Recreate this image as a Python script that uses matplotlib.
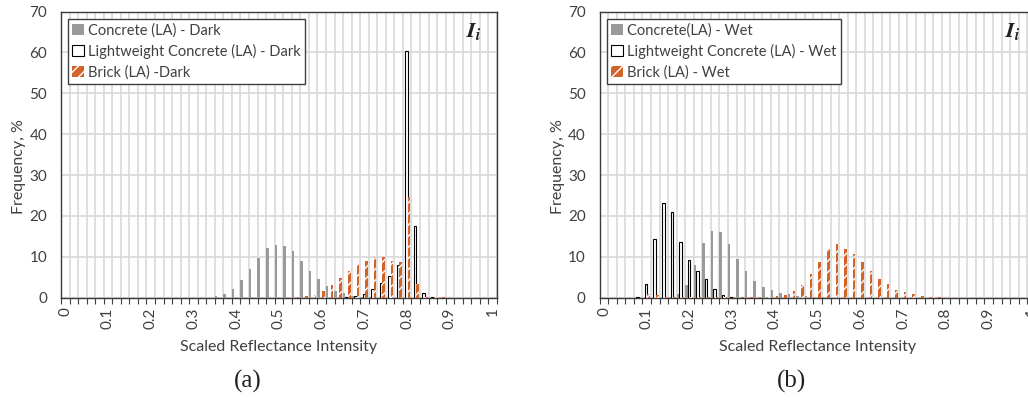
# %%
import numpy as np
import matplotlib.pyplot as plt

plt.rcParams["font.family"] = ["Lato", "DejaVu Sans"]
plt.rcParams["mathtext.fontset"] = "stix"

# %% data: frequency (%) per scaled intensity bin (bin step 0.02)

bins = [round(0.02 * i, 2) for i in range(51)]
tick_labels = ["0", "0.1", "0.2", "0.3", "0.4", "0.5", "0.6", "0.7", "0.8", "0.9", "1"]

concrete_dark = [
    0, 0, 0, 0, 0, 0, 0, 0, 0, 0,
    0, 0, 0, 0, 0, 0, 0, 0, 0.3, 0.9,
    2.0, 4.2, 7.1, 9.8, 12.1, 12.9, 12.6, 11.3, 9.0, 6.4,
    4.5, 2.9, 1.7, 1.1, 0.5, 0.2, 0.1, 0, 0, 0,
    0, 0, 0, 0, 0, 0, 0, 0, 0, 0,
    0,
]
lightweight_dark = [
    0, 0, 0, 0, 0, 0, 0, 0, 0, 0,
    0, 0, 0, 0, 0, 0, 0, 0, 0, 0,
    0, 0, 0, 0, 0, 0, 0, 0, 0, 0,
    0, 0, 0, 0.2, 0.5, 0.9, 2.0, 3.5, 5.3, 8.0,
    60.4, 17.6, 1.1, 0.2, 0, 0, 0, 0, 0, 0,
    0,
]
brick_dark = [
    0, 0, 0, 0, 0, 0, 0, 0, 0, 0,
    0, 0, 0, 0, 0, 0, 0, 0, 0, 0,
    0, 0, 0, 0, 0, 0, 0, 0.1, 0.3, 0.7,
    1.5, 3.0, 4.7, 6.4, 8.2, 9.0, 9.9, 9.9, 9.0, 8.6,
    24.7, 3.4, 0.2, 0.1, 0.1, 0, 0, 0, 0, 0,
    0,
]

concrete_wet = [
    0, 0, 0, 0, 0, 0, 0, 0, 0.2, 0.8,
    3.2, 8.0, 13.3, 16.4, 16.1, 13.2, 9.5, 6.5, 4.1, 2.7,
    1.8, 1.2, 0.8, 0.5, 0.3, 0.2, 0.1, 0, 0, 0,
    0, 0, 0, 0, 0, 0, 0, 0, 0, 0,
    0, 0, 0, 0, 0, 0, 0, 0, 0, 0,
    0,
]
lightweight_wet = [
    0, 0, 0, 0, 0.2, 3.3, 14.4, 23.2, 20.9, 13.7,
    9.1, 6.6, 4.5, 2.2, 0.7, 0.2, 0, 0, 0, 0,
    0, 0, 0, 0, 0, 0, 0, 0, 0, 0,
    0, 0, 0, 0, 0, 0, 0, 0, 0, 0,
    0, 0, 0, 0, 0, 0, 0, 0, 0, 0,
    0,
]
brick_wet = [
    0, 0, 0, 0, 0, 0.9, 0.6, 0.2, 0.1, 0.1,
    0.1, 0.1, 0.1, 0.1, 0.1, 0.1, 0.1, 0.1, 0.2, 0.2,
    0.3, 0.7, 1.5, 3.0, 5.8, 8.7, 11.8, 13.1, 11.8, 10.6,
    8.7, 6.5, 4.6, 3.3, 1.9, 1.3, 0.9, 0.4, 0.2, 0.2,
    0.2, 0, 0, 0, 0, 0, 0, 0, 0, 0,
    0,
]

labels_dark = [
    "Concrete (LA) - Dark",
    "Lightweight Concrete (LA) - Dark",
    "Brick (LA) -Dark",
]
labels_wet = [
    "Concrete(LA) - Wet",
    "Lightweight Concrete (LA) - Wet",
    "Brick (LA) - Wet",
]

# %%

gray = "#9A9A9C"
orange = "#D4632A"
text_color = "#404040"
width = 0.3
offsets = np.array([-0.3, 0.0, 0.3]) - 0.07


def draw_panel(ax, series, labels):
    x = np.arange(len(bins))

    ax.bar(x + offsets[0], series[0], width, color=gray, linewidth=0,
           label=labels[0], zorder=3)
    ax.bar(x + offsets[1], series[1], width, facecolor="white",
           edgecolor="black", linewidth=0.8, label=labels[1], zorder=3)
    ax.bar(x + offsets[2], series[2], width, facecolor=orange,
           edgecolor="white", hatch="///", linewidth=0, label=labels[2],
           zorder=3)

    ax.set_xlim(-0.5, len(bins) - 0.5)
    ax.set_ylim(0, 70)
    ax.set_yticks(range(0, 71, 10))

    # labels on every 5th bin, small ticks / grid on bin edges
    ax.set_xticks(x[::5], tick_labels, rotation=90)
    ax.set_xticks(np.arange(len(bins) + 1) - 0.5, minor=True)
    ax.tick_params(axis="x", which="major", length=0, pad=7)
    ax.tick_params(axis="x", which="minor", length=4, width=0.8,
                   color="#404040", direction="out")
    ax.tick_params(axis="y", length=0, pad=10)
    ax.tick_params(labelsize=11, labelcolor=text_color)

    ax.grid(axis="x", which="minor", color="#D9D9D9", linewidth=1.2, zorder=0)
    ax.grid(axis="y", which="major", color="#D9D9D9", linewidth=1.2, zorder=0)
    ax.set_axisbelow(True)

    for s in ax.spines.values():
        s.set_color("#3A3A3A")
        s.set_linewidth(1.0)

    ax.set_xlabel("Scaled Reflectance Intensity", fontsize=11.5, color=text_color)
    ax.xaxis.set_label_coords(0.5, -0.148)
    ax.set_ylabel("Frequency, %", fontsize=11.5, color=text_color)
    ax.yaxis.set_label_coords(-0.08, 0.458)

    ax.legend(
        loc="upper left",
        bbox_to_anchor=(0.016, 0.9745),
        borderaxespad=0,
        fontsize=10.5,
        fancybox=False,
        framealpha=1,
        edgecolor="#404040",
        handlelength=0.8,
        handleheight=0.8,
        handletextpad=0.3,
        labelspacing=0.42,
        borderpad=0.3,
        labelcolor=text_color,
    ).get_frame().set_linewidth(1.0)

    ax.text(0.966, 0.91, r"$\mathbfit{I}_{\mathbfit{i}}$", transform=ax.transAxes,
            ha="right", va="baseline", fontsize=16, color="#222222")


fig = plt.figure(figsize=(10.28, 4.0), dpi=100)
ax_a = fig.add_axes([0.0593, 0.256, 0.4241, 0.715])
ax_b = fig.add_axes([0.5834, 0.256, 0.4241, 0.715])

draw_panel(ax_a, [concrete_dark, lightweight_dark, brick_dark], labels_dark)
draw_panel(ax_b, [concrete_wet, lightweight_wet, brick_wet], labels_wet)

fig.text(248 / 1028, 1 - 381 / 400, "(a)", family="Liberation Serif",
         fontsize=18, ha="center", va="center", color="#222222")
fig.text(791 / 1028, 1 - 381 / 400, "(b)", family="Liberation Serif",
         fontsize=18, ha="center", va="center", color="#222222")

plt.savefig("out.png", dpi=100)
